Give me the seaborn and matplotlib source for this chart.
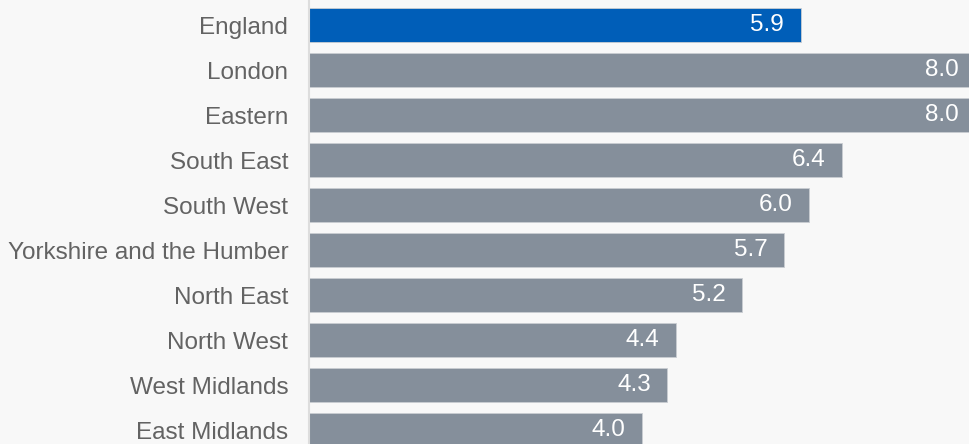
import matplotlib
matplotlib.use("Agg")
import matplotlib.pyplot as plt
import seaborn as sns
import pandas as pd

# values
regions = ["England", "London", "Eastern", "South East", "South West",
           "Yorkshire and the Humber", "North East", "North West",
           "West Midlands", "East Midlands"]
values = [5.9, 8.0, 8.0, 6.4, 6.0, 5.7, 5.2, 4.4, 4.3, 4.0]

blue = "#005EB8"
grey = "#858F9B"
bg = "#F8F8F8"

df = pd.DataFrame({"region": regions, "value": values})
pal = {r: (blue if r == "England" else grey) for r in regions}

sns.set_style("white")
plt.rcParams["font.family"] = ["Liberation Sans", "DejaVu Sans"]

fig = plt.figure(figsize=(9.7, 4.44), dpi=100, facecolor=bg)
ax = fig.add_axes([309 / 970, 0, 1 - 309 / 970, 1])
ax.set_facecolor(bg)

sns.barplot(data=df, x="value", y="region", hue="region", palette=pal,
            legend=False, width=0.75, saturation=1, ax=ax,
            edgecolor="#C9CDD2", linewidth=0.6)

# value labels inside the bar ends
for i, v in enumerate(values):
    ax.annotate(f"{v:.1f}", xy=(v, i), xytext=(-12, 0), textcoords="offset points",
                ha="right", va="center", color="white", fontsize=17.5,
                annotation_clip=False)

ax.set_xlim(0, 7.93)
ax.set_ylim(9.31, -0.556)
ax.set_xlabel("")
ax.set_ylabel("")
ax.set_xticks([])
ax.tick_params(axis="y", length=0, pad=15, labelsize=17.5, labelcolor="#636363")
for s in ["top", "right", "bottom"]:
    ax.spines[s].set_visible(False)
ax.spines["left"].set_color("#DDDDDD")
ax.spines["left"].set_linewidth(1.5)

fig.savefig("out.png", dpi=100, facecolor=bg)
